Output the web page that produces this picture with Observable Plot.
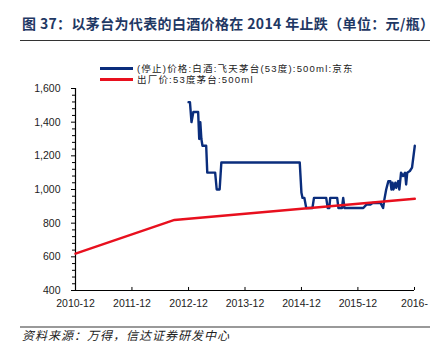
<!DOCTYPE html>
<html><head><meta charset="utf-8">
<script src="https://cdn.jsdelivr.net/npm/d3@7"></script>
<script src="https://cdn.jsdelivr.net/npm/@observablehq/plot@0.6"></script>
<style>
body{margin:0;background:#fff;width:440px;height:352px;position:relative;overflow:hidden;font-family:"Noto Sans CJK SC",sans-serif}
#title{position:absolute;left:22px;top:14px;font-size:14px;letter-spacing:0.35px;font-weight:bold;color:#1f3864;white-space:nowrap;line-height:18px}
#rule1{position:absolute;left:20px;top:40px;width:410px;height:1px;background:#333}
.leg{position:absolute;left:100px;height:11px;line-height:11px;font-family:"Liberation Sans","Noto Sans CJK SC",sans-serif;font-size:9.5px;letter-spacing:1.2px;color:#222;white-space:nowrap;display:flex;align-items:center}
.leg span.sw{display:inline-block;width:33px;height:3px;margin-right:4px}
#chart{position:absolute;left:0;top:80px}
#rule2{position:absolute;left:20px;top:326px;width:410px;height:2px;background:#999}
#cap{position:absolute;left:22px;font-size:12px;line-height:14px;font-style:italic;letter-spacing:1px;color:#222;white-space:nowrap}
</style></head>
<body>
<div id="title">图 37：以茅台为代表的白酒价格在 2014 年止跌（单位：元/瓶）</div>
<div id="rule1"></div>
<div class="leg" style="top:63px"><span class="sw" style="background:#0a2d7c"></span>(停止)价格:白酒:飞天茅台(53度):500ml:京东</div>
<div class="leg" style="top:74px"><span class="sw" style="background:#e8101e"></span>出厂价:53度茅台:500ml</div>
<div id="chart"></div>
<div id="rule2"></div>
<div id="cap" style="top:328px">资料来源：万得，信达证券研发中心</div>
<script>
const blueDates = ["2012-12-01","2012-12-10","2012-12-20","2013-01-01","2013-02-01","2013-02-08","2013-02-15","2013-02-22","2013-03-01","2013-03-25","2013-04-01","2013-05-22","2013-06-01","2013-06-20","2013-07-01","2014-11-20","2014-12-01","2014-12-08","2014-12-20","2015-01-01","2015-02-10","2015-02-20","2015-05-10","2015-05-20","2015-05-30","2015-06-05","2015-07-20","2015-07-28","2015-08-20","2015-08-28","2015-09-05","2016-01-05","2016-01-25","2016-02-20","2016-03-05","2016-04-25","2016-05-12","2016-05-20","2016-06-01","2016-06-15","2016-06-28","2016-07-05","2016-07-12","2016-07-18","2016-07-30","2016-08-05","2016-08-18","2016-08-25","2016-09-05","2016-09-18","2016-10-01","2016-10-08","2016-10-15","2016-11-01","2016-11-15","2016-12-03"];
const blueValues = [1519,1519,1400,1460,1460,1300,1400,1300,1260,1260,1100,1100,1000,1000,1160,1160,980,950,950,890,890,950,950,890,890,950,950,890,890,950,890,890,910,910,920,920,890,940,1000,1050,1050,1000,1040,1000,1040,1010,1050,1000,1100,1080,1100,1030,1100,1110,1130,1260];
const redDates = ["2010-12-01","2012-09-01","2016-12-03"];
const redValues = [619,819,945];
const xTickDates = ["2010-12-01","2011-12-01","2012-12-01","2013-12-01","2014-12-01","2015-12-01","2016-12-01"];
const xTickLabels = ["2010-12","2011-12","2012-12","2013-12","2014-12","2015-12","2016-"];
const yMajor = [400,600,800,1000,1200,1400,1600];
const yMinor = [440,480,520,560,640,680,720,760,840,880,920,960,1040,1080,1120,1160,1240,1280,1320,1360,1440,1480,1520,1560];

const blue = blueDates.map((d,i)=>({date:new Date(d),v:blueValues[i]}));
const red = redDates.map((d,i)=>({date:new Date(d),v:redValues[i]}));
const xt = xTickDates.map(d=>new Date(d));
const labelOf = new Map(xt.map((d,i)=>[+d,xTickLabels[i]]));

const chart = Plot.plot({
  width:440, height:232,
  marginLeft:75, marginRight:26, marginTop:8, marginBottom:22,
  style:{fontFamily:"'Liberation Sans',Arial,sans-serif",fontSize:"10.5px",color:"#222",background:"transparent"},
  x:{type:"utc",domain:[xt[0],xt[xt.length-1]],label:null},
  y:{domain:[400,1600],label:null},
  marks:[
    Plot.axisY(yMajor,{tickSize:4,tickPadding:11,tickFormat:d3.format(","),stroke:"#000",label:null}),
    Plot.axisY(yMinor,{tickSize:3,tickFormat:()=>"",stroke:"#000",label:null}),
    Plot.axisX(xt,{tickSize:0,tickPadding:9,tickFormat:d=>labelOf.get(+d),label:null}),
    Plot.ruleX(xt,{x:d=>d,y1:400,y2:418,stroke:"#000"}),
    Plot.ruleY([400],{stroke:"#000",strokeWidth:1.2}),
    Plot.ruleX([xt[0]],{stroke:"#000",strokeWidth:1.2}),
    Plot.line(blue,{x:"date",y:"v",stroke:"#0a2d7c",strokeWidth:2.4,curve:"linear"}),
    Plot.line(red,{x:"date",y:"v",stroke:"#e8101e",strokeWidth:2.4})
  ]
});
document.getElementById("chart").appendChild(chart);
</script>
</body></html>
